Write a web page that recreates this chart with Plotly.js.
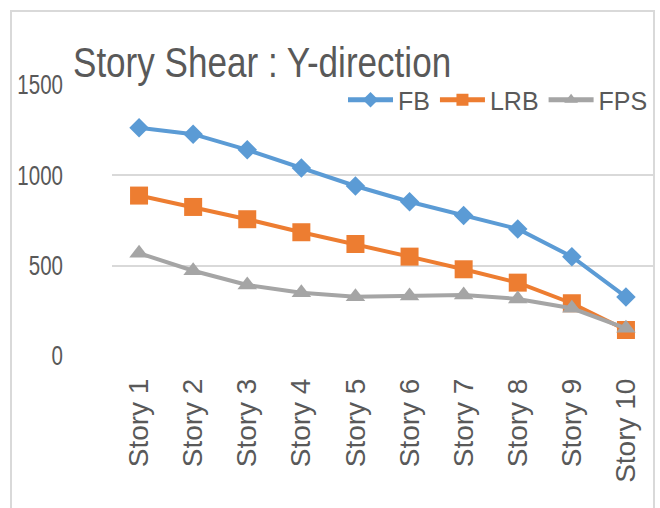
<!DOCTYPE html>
<html>
<head>
<meta charset="utf-8">
<script src="https://cdn.plot.ly/plotly-3.0.1.min.js"></script>
<style>
html, body { margin: 0; padding: 0; background: #ffffff; }
#wrap { position: relative; width: 660px; height: 508px; overflow: hidden; }
#frame { position: absolute; left: 10px; top: 10px; width: 645px; height: 600px; border: 2px solid #d9d9d9; box-sizing: border-box; }
#chart { position: absolute; left: 0; top: 0; width: 660px; height: 508px; }
</style>
</head>
<body>
<div id="wrap">
  <div id="frame"></div>
  <div id="chart"></div>
</div>
<script>
var categories = ["Story 1", "Story 2", "Story 3", "Story 4", "Story 5", "Story 6", "Story 7", "Story 8", "Story 9", "Story 10"];
var fbValues  = [1264, 1228, 1141, 1041, 941, 854, 777, 703, 550, 327];
var lrbValues = [888, 825, 757, 685, 620, 550, 480, 406, 292, 144];
var fpsValues = [569, 472, 393, 350, 328, 332, 338, 316, 264, 153];
var yTickValues = [0, 500, 1000, 1500];
var yTickLabels = ["0", "500", "1000", "1500"];

var font = "'Liberation Sans', Arial, sans-serif";
var textColor = "#595959";

var traces = [
  {
    x: categories, y: fbValues, name: "FB", type: "scatter", mode: "lines+markers",
    line: { color: "#5B9BD5", width: 4 },
    marker: { symbol: "diamond", size: 15, color: "#5B9BD5" }
  },
  {
    x: categories, y: lrbValues, name: "LRB", type: "scatter", mode: "lines+markers",
    line: { color: "#ED7D31", width: 4 },
    marker: { symbol: "square", size: 18, color: "#ED7D31" }
  },
  {
    x: categories, y: fpsValues, name: "FPS", type: "scatter", mode: "lines+markers",
    line: { color: "#A5A5A5", width: 4 },
    marker: { symbol: "triangle-up", size: 17, color: "#A5A5A5" }
  }
];

var layout = {
  width: 660, height: 508,
  paper_bgcolor: "rgba(0,0,0,0)",
  plot_bgcolor: "rgba(0,0,0,0)",
  margin: { l: 112, r: 7, t: 85, b: 152 },
  showlegend: true,
  title: {
    text: "Story Shear : Y-direction",
    font: { family: font, size: 42, color: textColor },
    x: 73 / 660, xref: "container", xanchor: "left",
    y: 1 - 62 / 508, yref: "container", yanchor: "middle"
  },
  xaxis: {
    type: "category",
    range: [-0.5, 9.5],
    showgrid: false, zeroline: false, showline: false,
    ticks: "", tickangle: -90,
    ticklabelstandoff: 16,
    tickfont: { family: font, size: 28, color: textColor },
    fixedrange: true
  },
  yaxis: {
    range: [0, 1500],
    tickvals: yTickValues, ticktext: yTickLabels,
    showgrid: true, gridcolor: "#d9d9d9", gridwidth: 2,
    zeroline: false, showline: false, ticks: "",
    ticklabelstandoff: 48,
    tickfont: { family: font, size: 27, color: textColor },
    fixedrange: true
  },
  legend: {
    orientation: "h",
    x: 1, xanchor: "right", xref: "paper",
    y: (356 - 100) / 271, yanchor: "middle", yref: "paper",
    font: { family: font, size: 25, color: textColor },
    bgcolor: "rgba(0,0,0,0)",
    itemwidth: 45,
    itemsizing: "constant",
    traceorder: "normal"
  }
};

// narrow the (condensed-looking) title and y tick labels horizontally, keeping their anchor edge fixed
function squeeze(nodes, s) {
  Array.prototype.forEach.call(nodes, function (t) {
    var x = parseFloat(t.getAttribute("x")) || 0;
    var prev = t.getAttribute("transform") || "";
    t.setAttribute("transform", prev + " translate(" + x + ",0) scale(" + s + ",1) translate(" + (-x) + ",0)");
  });
}

Plotly.newPlot("chart", traces, layout, { displayModeBar: false, staticPlot: true }).then(function (gd) {
  squeeze(gd.querySelectorAll("text.gtitle"), 0.835);
  squeeze(gd.querySelectorAll(".ytick text"), 0.76);
});
</script>
</body>
</html>
